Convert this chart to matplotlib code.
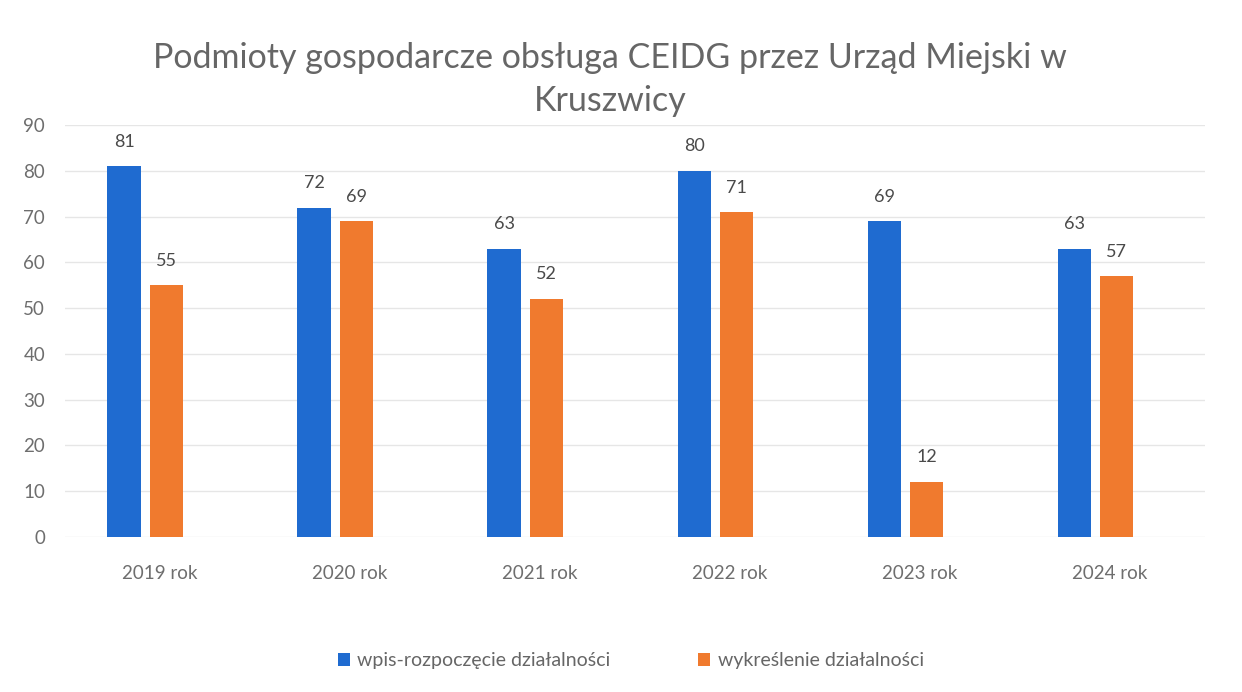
import matplotlib.pyplot as plt
import numpy as np

years = ["2019 rok", "2020 rok", "2021 rok", "2022 rok", "2023 rok", "2024 rok"]
wpis = [81, 72, 63, 80, 69, 63]
wykreslenie = [55, 69, 52, 71, 12, 57]
series_names = ["wpis-rozpoczęcie działalności", "wykreślenie działalności"]

plt.rcParams["font.family"] = ["Lato", "DejaVu Sans"]

fig = plt.figure(figsize=(12.42, 6.92), dpi=100)
ax = fig.add_axes([0.052, 0.224, 0.918, 0.595])

x = np.arange(len(years))
w = 0.175
off = 0.112
shift = -0.075  # bars sit a bit left of the labels in the scan
blue = "#1f6bd0"
orange = "#f07a2e"

b1 = ax.bar(x - off + shift, wpis, w, color=blue, label=series_names[0], zorder=3)
b2 = ax.bar(x + off + shift, wykreslenie, w, color=orange, label=series_names[1], zorder=3)

for bars in (b1, b2):
    ax.bar_label(bars, padding=12, fontsize=13, color="#4a4a4a")

ax.set_ylim(0, 90)
ax.set_xlim(-0.5, len(years) - 0.5)
ax.set_yticks(range(0, 91, 10))
ax.set_xticks(x)
ax.set_xticklabels(years)
ax.tick_params(axis="both", length=0, labelsize=13.5, labelcolor="#6e6e6e")
ax.tick_params(axis="x", pad=20)
ax.tick_params(axis="y", pad=14)
ax.grid(axis="y", color="#e6e6e6", linewidth=1, zorder=0)
for s in ax.spines.values():
    s.set_visible(False)

fig.text(0.491, 0.885, "Podmioty gospodarcze obsługa CEIDG przez Urząd Miejski w\nKruszwicy",
         ha="center", va="center", fontsize=24.5, color="#666666", linespacing=1.4)

fig.legend(loc="center", bbox_to_anchor=(0.508, 0.045), ncol=2, frameon=False,
           fontsize=14, handlelength=0.6, handleheight=0.6,
           handletextpad=0.4, columnspacing=4.5, labelcolor="#666666")

fig.savefig("out.png", dpi=100, facecolor="white")
